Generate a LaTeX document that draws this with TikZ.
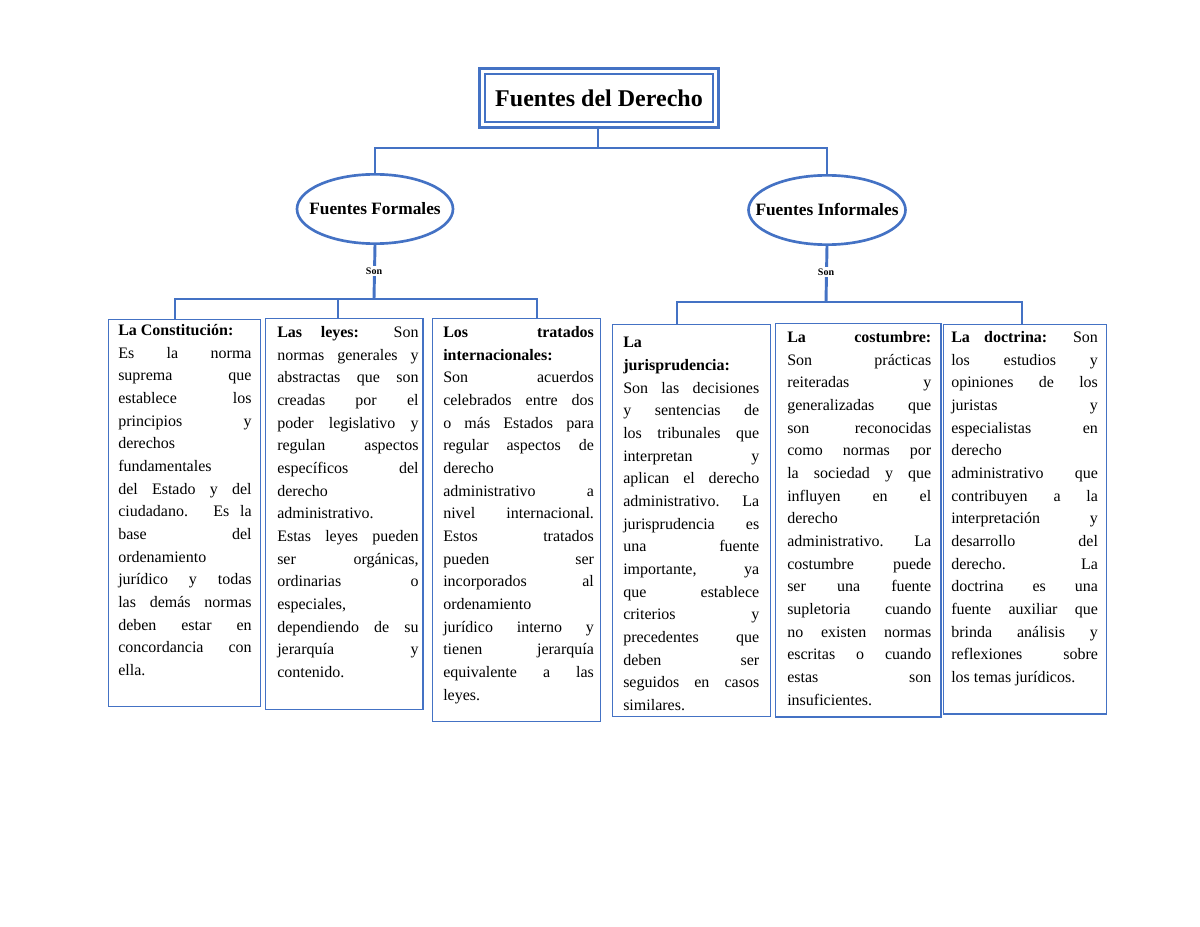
\documentclass[tikz,border=0pt]{standalone}
\usepackage{fontspec}
\setmainfont{Liberation Serif}
\usetikzlibrary{shapes.geometric}
\definecolor{bl}{HTML}{4472C4}
\begin{document}
\begin{tikzpicture}[x=0.75pt,y=-0.75pt,
  conn/.style={draw=bl,line width=2.2pt},
  box/.style={draw=bl,line width=1pt,rectangle,anchor=north west,inner sep=0pt},
  txt/.style={anchor=north west,inner sep=0pt,align=justify,font=\fontsize{12}{17}\selectfont},
  ell/.style={draw=bl,line width=2pt,ellipse,minimum width=117pt,minimum height=52pt,inner xsep=-12pt,inner ysep=0pt,font=\fontsize{13}{15}\selectfont\bfseries},
  son/.style={font=\fontsize{7.5}{9}\selectfont\bfseries,fill=white,inner sep=1pt}]
\useasboundingbox (0,0) rectangle (1200,927);
% title
\node[draw=bl,line width=2pt,double=white,double distance=2pt,minimum width=175pt,minimum height=40pt,anchor=north west,font=\fontsize{18}{20}\selectfont\bfseries] (t) at (481,70) {Fuentes del Derecho};
\node[ell] (f) at (375,209) {Fuentes Formales};
\node[ell] (i) at (827,210) {Fuentes Informales};
\coordinate (tb) at (598,148);
\draw[conn] (t.south -| tb) -- (tb);
\draw[conn] (f.north) -- (375,148) -- (827,148) -- (i.north);
% boxes
\node[box,minimum width=114pt,minimum height=290pt] (b1) at (108,319) {};
\node[box,minimum width=118pt,minimum height=293pt] (b2) at (265,318) {};
\node[box,minimum width=126pt,minimum height=302pt] (b3) at (432,318) {};
\node[box,minimum width=118.5pt,minimum height=294pt] (b4) at (612,324) {};
\node[box,minimum width=124pt,minimum height=295pt] (b5) at (775,323) {};
\node[box,minimum width=122pt,minimum height=292pt] (b6) at (943,324) {};
% connectors formales
\coordinate (fj) at (374,299);
\draw[conn] (f.south) -- (fj);
\draw[conn] (b1.north -| 175,0) -- (175,299) -- (537,299) -- (b3.north -| 537,0);
\draw[conn] (338,299) -- (b2.north -| 338,0);
\node[son] (s1) at (374,271) {Son};
% connectors informales
\coordinate (ij) at (826,302);
\draw[conn] (i.south) -- (ij);
\draw[conn] (b4.north -| 677,0) -- (677,302) -- (1022,302) -- (b6.north -| 1022,0);
\node[son] (s2) at (826,272) {Son};
% texts
\node[txt,text width=100pt] (x1) at (118,324) {\textbf{La~Constitución:}\hfill\null\linebreak
Es la norma\linebreak suprema que\linebreak establece los\linebreak principios y\linebreak derechos\linebreak fundamentales\linebreak del Estado y del\linebreak ciudadano. Es la\linebreak base del\linebreak ordenamiento\linebreak jurídico y todas\linebreak las demás normas\linebreak deben estar en\linebreak concordancia con\linebreak ella.};
\node[txt,text width=106pt] (x2) at (277,326) {\textbf{Las leyes:} Son\linebreak normas generales y\linebreak abstractas que son\linebreak creadas por el\linebreak poder legislativo y\linebreak regulan aspectos\linebreak específicos del\linebreak derecho\linebreak administrativo.\linebreak Estas leyes pueden\linebreak ser orgánicas,\linebreak ordinarias o\linebreak especiales,\linebreak dependiendo de su\linebreak jerarquía y\linebreak contenido.};
\node[txt,text width=113pt] (x3) at (443,326) {\textbf{Los tratados}\linebreak \textbf{internacionales:}\linebreak Son acuerdos\linebreak celebrados entre dos\linebreak o más Estados para\linebreak regular aspectos de\linebreak derecho\linebreak administrativo a\linebreak nivel internacional.\linebreak Estos tratados\linebreak pueden ser\linebreak incorporados al\linebreak ordenamiento\linebreak jurídico interno y\linebreak tienen jerarquía\linebreak equivalente a las\linebreak leyes.};
\node[txt,text width=102pt] (x4) at (623,337) {\textbf{La}\linebreak \textbf{jurisprudencia:}\linebreak Son las decisiones\linebreak y sentencias de\linebreak los tribunales que\linebreak interpretan y\linebreak aplican el derecho\linebreak administrativo. La\linebreak jurisprudencia es\linebreak una fuente\linebreak importante, ya\linebreak que establece\linebreak criterios y\linebreak precedentes que\linebreak deben ser\linebreak seguidos en casos\linebreak similares.};
\node[txt,text width=108pt] (x5) at (787,331) {\textbf{La costumbre:}\linebreak Son prácticas\linebreak reiteradas y\linebreak generalizadas que\linebreak son reconocidas\linebreak como normas por\linebreak la sociedad y que\linebreak influyen en el\linebreak derecho\linebreak administrativo. La\linebreak costumbre puede\linebreak ser una fuente\linebreak supletoria cuando\linebreak no existen normas\linebreak escritas o cuando\linebreak estas son\linebreak insuficientes.};
\node[txt,text width=110pt] (x6) at (951,331) {\textbf{La doctrina:} Son\linebreak los estudios y\linebreak opiniones de los\linebreak juristas y\linebreak especialistas en\linebreak derecho\linebreak administrativo que\linebreak contribuyen a la\linebreak interpretación y\linebreak desarrollo del\linebreak derecho. La\linebreak doctrina es una\linebreak fuente auxiliar que\linebreak brinda análisis y\linebreak reflexiones sobre\linebreak los temas jurídicos.};
\end{tikzpicture}
\end{document}
